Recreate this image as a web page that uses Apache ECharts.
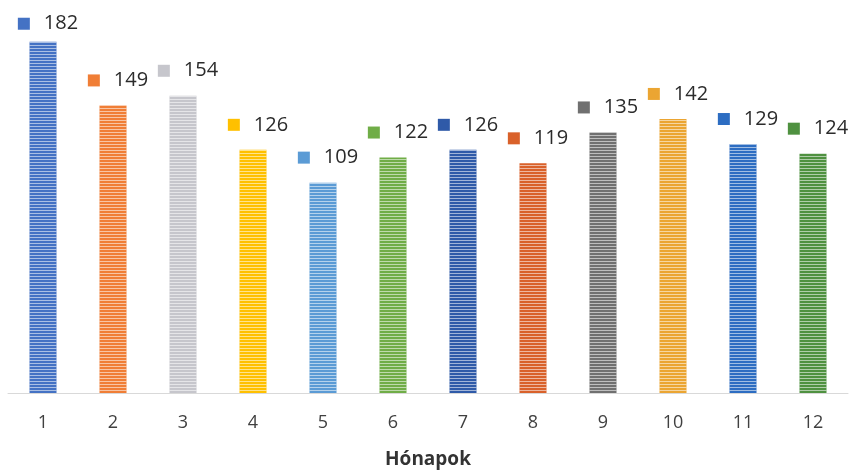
<!DOCTYPE html>
<html>
<head>
<meta charset="utf-8">
<script src="https://cdn.jsdelivr.net/npm/echarts@6/dist/echarts.min.js"></script>
<style>html,body{margin:0;padding:0;background:#fff}#c{width:854px;height:475px}</style>
</head>
<body>
<div id="c"></div>
<script>
const categories = ['1','2','3','4','5','6','7','8','9','10','11','12'];
const values = [182, 149, 154, 126, 109, 122, 126, 119, 135, 142, 129, 124];
const barColors = ['#4472C4','#F07E36','#C6C6CC','#FFC000','#5B9BD5','#70AD47','#2F5AA8','#D9612A','#707070','#EBA532','#2D6DC2','#4F9140'];
const axisTitle = 'Hónapok';

const FONT = '"Open Sans", Lato, sans-serif';
const chart = echarts.init(document.getElementById('c'));

const data = values.map((v, i) => ({
  value: v,
  itemStyle: {
    color: barColors[i],
    decal: {
      symbol: 'rect',
      symbolSize: 1,
      dashArrayX: [[8, 0]],
      dashArrayY: [1, 2],
      color: 'rgba(255,255,255,0.55)',
      rotation: 0
    }
  },
  label: {
    distance: i === 0 ? 8 : 15,
    rich: { sq: { width: 12, height: 12, backgroundColor: barColors[i] } }
  }
}));

chart.setOption({
  animation: false,
  grid: { left: 8, right: 6, top: 7, bottom: 82 },
  xAxis: {
    type: 'category',
    data: categories,
    axisLine: { lineStyle: { color: '#D9D9D9', width: 1 } },
    axisTick: { show: false },
    axisLabel: { color: '#404040', fontSize: 18, fontFamily: FONT, margin: 21 },
    name: axisTitle,
    nameLocation: 'middle',
    nameGap: 57,
    nameTextStyle: { color: '#333333', fontSize: 19, fontWeight: 'bold', fontFamily: FONT }
  },
  yAxis: {
    type: 'value',
    min: 0,
    max: 200,
    show: false,
    splitLine: { show: false }
  },
  series: [{
    type: 'bar',
    data: data,
    barWidth: 27,
    label: {
      show: true,
      position: 'top',
      offset: [5, 0],
      formatter: p => '{sq|}{v|' + p.value + '}',
      rich: {
        v: { fontSize: 20, color: '#2B2B2B', fontFamily: FONT, padding: [0, 0, 0, 14] }
      }
    }
  }]
});
</script>
</body>
</html>
